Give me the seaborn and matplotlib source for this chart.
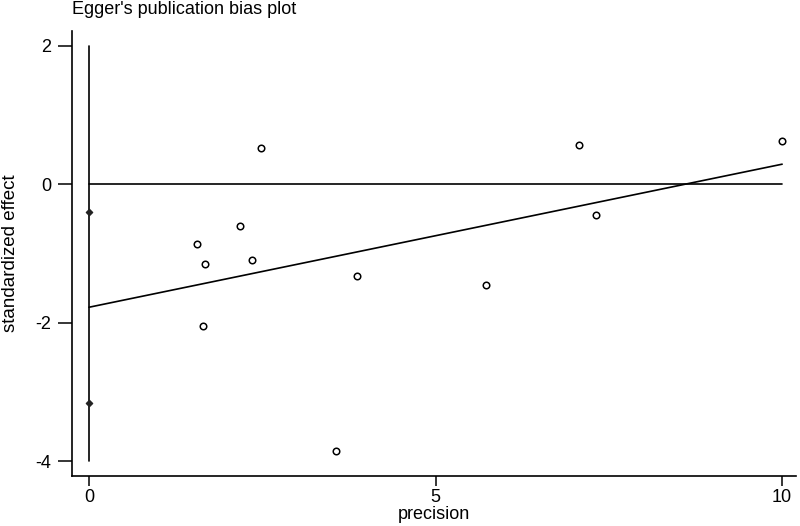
import seaborn as sns
import matplotlib.pyplot as plt
import pandas as pd

# study points (precision, standardized effect)
precision = [1.56, 1.68, 1.65, 2.18, 2.35, 2.48, 3.57, 3.86, 5.73, 7.07, 7.32, 10.0]
std_effect = [-0.86, -1.15, -2.04, -0.61, -1.10, 0.52, -3.85, -1.33, -1.46, 0.56, -0.44, 0.62]

# egger regression line and intercept CI
fit_x = [0, 10]
fit_y = [-1.775, 0.289]
ci_y = [-0.40, -3.15]
ref_y = [2, -4]

xticks = [0, 5, 10]
yticks = [-4, -2, 0, 2]

sns.set_style("ticks")
plt.rcParams['font.family'] = ['Liberation Sans', 'DejaVu Sans']
plt.rcParams['axes.unicode_minus'] = False
plt.rcParams['text.color'] = 'black'
plt.rcParams['axes.labelcolor'] = 'black'

fig = plt.figure(figsize=(8, 5.26), dpi=100)
ax = fig.add_axes([0.09, 0.095, 0.905, 0.846])

df = pd.DataFrame({"precision": precision, "effect": std_effect})
sns.scatterplot(data=df, x="precision", y="effect", ax=ax, marker="o", s=22,
                facecolor="white", edgecolor="black", linewidth=1.1, zorder=3)

sns.lineplot(x=fit_x, y=fit_y, ax=ax, color="black", linewidth=1.2)
ax.plot([0, 10], [0, 0], color="black", linewidth=1.2)
ax.plot([0, 0], ref_y, color="black", linewidth=1.2)
ax.scatter([0, 0], ci_y, marker="D", s=10, color="#222222", zorder=3)

ax.set_xlim(-0.245, 10.2)
ax.set_ylim(-4.21, 2.21)
ax.set_xticks(xticks)
ax.set_yticks(yticks)
ax.tick_params(direction="out", width=1.1, labelsize=13, colors="black")
ax.tick_params(axis="x", length=7, pad=2)
ax.tick_params(axis="y", length=10, pad=5)
for side in ["top", "right"]:
    ax.spines[side].set_visible(False)
for side in ["left", "bottom"]:
    ax.spines[side].set_linewidth(1.2)
    ax.spines[side].set_color("black")

ax.set_xlabel("precision", fontsize=13, labelpad=0)
ax.set_ylabel("standardized effect", fontsize=13.5, labelpad=12)
fig.text(0.09, 0.981, "Egger's publication bias plot", fontsize=13, ha="left", va="center")

plt.savefig("out.png", dpi=100)
